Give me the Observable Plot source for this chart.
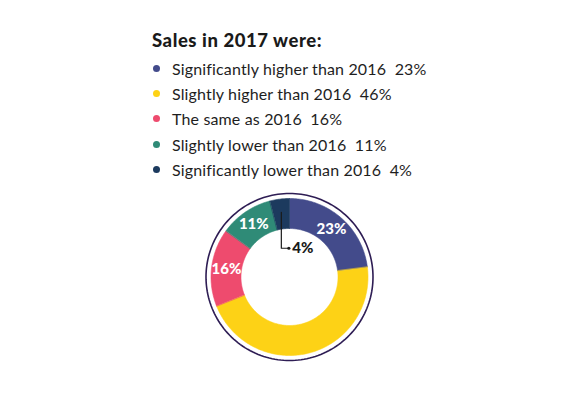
<!DOCTYPE html>
<html><head><meta charset="utf-8">
<script src="https://cdn.jsdelivr.net/npm/d3@7"></script>
<script src="https://cdn.jsdelivr.net/npm/@observablehq/plot@0.6"></script>
<style>
html,body{margin:0;padding:0;background:#fff;}
#wrap{position:relative;width:576px;height:395px;overflow:hidden;font-family:Lato,"Open Sans",sans-serif;color:#1e1e1e;}
#chart{position:absolute;left:0;top:0;}
#head{position:absolute;left:152px;top:29px;}
#title{font-size:18.5px;font-weight:900;letter-spacing:0.55px;line-height:22px;margin:0 0 5px 0;color:#1a1a1a;}
.row{display:flex;align-items:center;height:25.2px;font-size:16px;letter-spacing:0.15px;}
.dot{width:7px;height:7px;border-radius:50%;margin:0 12px 0 1px;flex:none;}
</style>
</head><body>
<div id="wrap">
  <div id="chart"></div>
  <div id="head"><div id="title"></div><div id="legend"></div></div>
</div>
<script>
const title = "Sales in 2017 were:";
const categories = ["Significantly higher than 2016","Slightly higher than 2016","The same as 2016","Slightly lower than 2016","Significantly lower than 2016"];
const values = [23, 46, 16, 11, 4];
const colors = ["#434b8b","#fdd216","#ee4b6e","#2f8b77","#1c3a5e"];
const labelMode = ["inside","none","inside","inside","leader"];

// header + legend (HTML)
document.getElementById("title").textContent = title;
const leg = document.getElementById("legend");
categories.forEach((c,i)=>{
  const r = document.createElement("div"); r.className="row";
  const d = document.createElement("span"); d.className="dot"; d.style.background=colors[i];
  const t = document.createElement("span"); t.textContent = c + "\u00a0\u00a0" + values[i] + "%";
  r.appendChild(d); r.appendChild(t); leg.appendChild(r);
});

// donut geometry in data units (outline ring radius = 1)
const R_OUT = 0.94, R_IN = 0.581, R_RING = 1;
const pie = d3.pie().sort(null).value(d=>d.value)(categories.map((c,i)=>({cat:c, value:values[i], i})));
const pt = (a,r)=>({x: r*Math.sin(a), y: r*Math.cos(a)});
const slicePts = [];
pie.forEach(p=>{
  const n = Math.max(8, Math.ceil((p.endAngle-p.startAngle)*60));
  for(let k=0;k<=n;k++){const a=p.startAngle+(p.endAngle-p.startAngle)*k/n; slicePts.push({...pt(a,R_OUT), cat:p.data.cat});}
  for(let k=n;k>=0;k--){const a=p.startAngle+(p.endAngle-p.startAngle)*k/n; slicePts.push({...pt(a,R_IN), cat:p.data.cat});}
});
const ring = d3.range(0,361,2).map(deg=>pt(deg*Math.PI/180,R_RING));
const mid = (R_OUT+R_IN)/2;
const inside = pie.filter(p=>labelMode[p.data.i]==="inside").map(p=>({...pt((p.startAngle+p.endAngle)/2, mid), text: p.data.value+"%"}));
const leaderSlice = pie.filter(p=>labelMode[p.data.i]==="leader");
const leaderPts = [], leaderLabels = [];
leaderSlice.forEach(p=>{
  const c = pt((p.startAngle+p.endAngle)/2, mid+0.02);
  const yb = c.y - 0.43;
  leaderPts.push({x:c.x,y:c.y,g:p.data.cat},{x:c.x,y:yb,g:p.data.cat},{x:c.x+0.09,y:yb,g:p.data.cat});
  leaderLabels.push({x:c.x+0.13, y:yb, text:p.data.value+"%", dotx:c.x+0.09});
});

const plot = Plot.plot({
  width: 576, height: 395,
  marginLeft: 205.5, marginRight: 203.5, marginTop: 193, marginBottom: 35,
  x: {domain:[-1,1], axis:null},
  y: {domain:[-1,1], axis:null},
  color: {domain: categories, range: colors},
  style: {background:"transparent", fontFamily:"Lato, 'Open Sans', sans-serif"},
  marks: [
    Plot.line(ring, {x:"x", y:"y", stroke:"#2e1d54", strokeWidth:1.6, curve:"linear-closed"}),
    Plot.line(slicePts, {x:"x", y:"y", z:"cat", fill:"cat", stroke:"cat", strokeWidth:0.6, curve:"linear-closed"}),
    Plot.text(inside, {x:"x", y:"y", text:"text", fill:"white", fontSize:15, fontWeight:900}),
    Plot.line(leaderPts, {x:"x", y:"y", z:"g", stroke:"#1a1a1a", strokeWidth:1.2}),
    Plot.dot(leaderLabels, {x:"dotx", y:"y", r:1.6, fill:"#1a1a1a"}),
    Plot.text(leaderLabels, {x:"x", y:"y", text:"text", textAnchor:"start", fill:"#1a1a1a", fontSize:15, fontWeight:900})
  ]
});
document.getElementById("chart").appendChild(plot);
</script>
</body></html>
